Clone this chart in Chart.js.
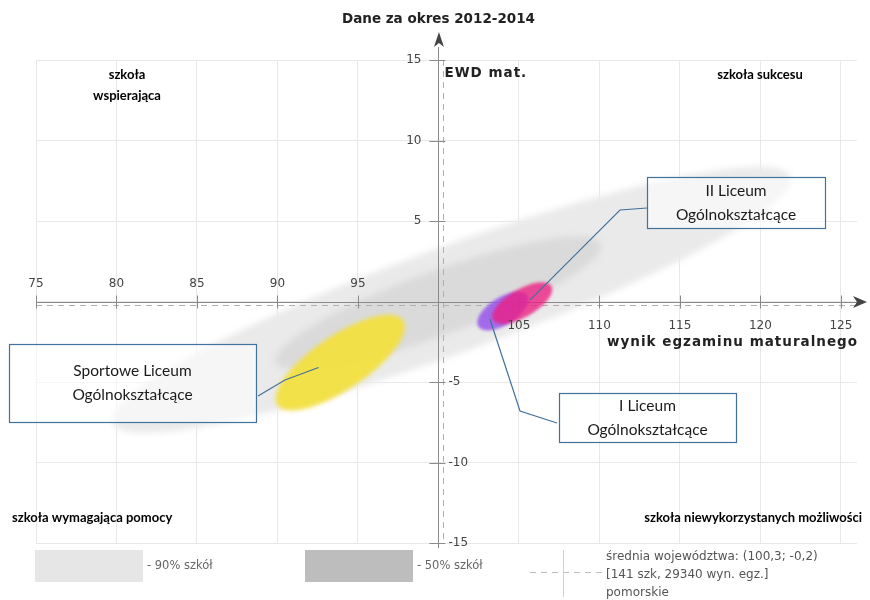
<!DOCTYPE html>
<html>
<head>
<meta charset="utf-8">
<script src="https://cdn.jsdelivr.net/npm/chart.js@4/dist/chart.umd.min.js"></script>
<style>
  body { margin: 0; background: #fff; }
  #wrap { width: 870px; height: 600px; }
</style>
</head>
<body>
<div id="wrap"><canvas id="ewdChart" width="870" height="600"></canvas></div>
<script>
// axis ticks
const xTicks = [75, 80, 85, 90, 95, 100, 105, 110, 115, 120, 125];
const yTicks = [-15, -10, -5, 0, 5, 10, 15];

// ellipses: 90% / 50% of schools, then the three schools
const ellipseNames = ['90% szkół', '50% szkół', 'Sportowe Liceum Ogólnokształcące', 'I Liceum Ogólnokształcące', 'II Liceum Ogólnokształcące'];
const centerX = [100.8, 100.0, 93.9, 104.0, 105.2];
const centerY = [0.1, -0.1, -3.8, -0.6, -0.1];
const semiMajor = [22.4, 10.75, 4.7, 1.8, 2.1];
const semiMinor = [3.3, 2.0, 1.68, 0.85, 0.87];
const tiltDeg = [20, 20, 34, 32, 30];

// voivodeship average
const avgX = 100.3;
const avgY = -0.2;
const schoolCount = 141;
const examCount = 29340;

const ellipseColors = ['#eaeaea', '#dadada', 'rgba(243,224,60,0.93)', 'rgba(150,85,235,0.85)', 'rgba(236,30,130,0.78)'];
const ellipseBlur = [3, 3, 2, 1.5, 1.5];

const tickFont = '12px "DejaVu Sans"';
const calloutFont = '15.5px Lato, "Open Sans", sans-serif';
const quadFont = 'bold 13px Lato, "Open Sans", sans-serif';

function fmt(v) { return String(v).replace('.', ','); }

function drawAxes(chart) {
  const c = chart.ctx, xs = chart.scales.x, ys = chart.scales.y;
  const x0 = xs.getPixelForValue(100), y0 = ys.getPixelForValue(0);
  const ax = xs.getPixelForValue(avgX), ay = ys.getPixelForValue(avgY);
  const a = chart.chartArea;
  c.save();
  // average lines
  c.strokeStyle = '#b0b0b0';
  c.lineWidth = 1;
  c.setLineDash([6, 5]);
  c.beginPath();
  c.moveTo(a.left, Math.round(ay) + 0.5); c.lineTo(a.right, Math.round(ay) + 0.5);
  c.moveTo(Math.round(ax) + 0.5, a.top); c.lineTo(Math.round(ax) + 0.5, a.bottom);
  c.stroke();
  c.setLineDash([]);
  // axis lines
  c.strokeStyle = '#8a8a8a';
  c.beginPath();
  c.moveTo(a.left, Math.round(y0) + 0.5); c.lineTo(a.right + 1, Math.round(y0) + 0.5);
  c.moveTo(Math.round(x0) + 0.5, a.top - 13); c.lineTo(Math.round(x0) + 0.5, a.bottom + 5);
  c.stroke();
  // tick marks
  c.beginPath();
  xTicks.forEach(v => {
    const px = Math.round(xs.getPixelForValue(v)) + 0.5;
    c.moveTo(px, y0 - 6); c.lineTo(px, y0 + 7);
  });
  yTicks.forEach(v => {
    const py = Math.round(ys.getPixelForValue(v)) + 0.5;
    c.moveTo(x0 - 9, py); c.lineTo(x0 + 7, py);
  });
  c.stroke();
  // arrows
  c.fillStyle = '#444';
  c.beginPath();
  c.moveTo(x0 + 0.5, a.top - 28); c.lineTo(x0 + 5.5, a.top - 13); c.lineTo(x0 + 0.5, a.top - 17); c.lineTo(x0 - 4.5, a.top - 13);
  c.closePath(); c.fill();
  c.beginPath();
  c.moveTo(a.right + 10, y0 + 0.5); c.lineTo(a.right - 4, y0 - 5.5); c.lineTo(a.right, y0 + 0.5); c.lineTo(a.right - 4, y0 + 6.5);
  c.closePath(); c.fill();
  c.restore();
}

const ellipsePlugin = {
  id: 'ellipses',
  beforeDatasetsDraw(chart) {
    const c = chart.ctx, xs = chart.scales.x, ys = chart.scales.y;
    chart.data.datasets.forEach((ds, i) => {
      const pt = chart.getDatasetMeta(i).data[0];
      const t = tiltDeg[i] * Math.PI / 180;
      const mx = xs.getPixelForValue(centerX[i] + semiMajor[i] * Math.cos(t));
      const my = ys.getPixelForValue(centerY[i] + semiMajor[i] * Math.sin(t));
      const nx = xs.getPixelForValue(centerX[i] - semiMinor[i] * Math.sin(t));
      const ny = ys.getPixelForValue(centerY[i] + semiMinor[i] * Math.cos(t));
      const rx = Math.hypot(mx - pt.x, my - pt.y);
      const ry = Math.hypot(nx - pt.x, ny - pt.y);
      const rot = Math.atan2(my - pt.y, mx - pt.x);
      c.save();
      c.filter = 'blur(' + ellipseBlur[i] + 'px)';
      c.fillStyle = ellipseColors[i];
      c.beginPath();
      c.ellipse(pt.x, pt.y, rx, ry, rot, 0, Math.PI * 2);
      c.fill();
      c.restore();
      if (i === 1) drawAxes(chart);
    });
  }
};

// callout boxes: box in pixels, arrow ends at a point of the data
const callouts = [
  { lines: ['Sportowe Liceum', 'Ogólnokształcące'], box: [9, 344, 247, 78], path: [[258, 396], [285, 380]], target: [92.55, -4.1] },
  { lines: ['II Liceum', 'Ogólnokształcące'], box: [647, 177, 178, 51], path: [[647, 208], [620, 210]], target: [105.7, 0.1] },
  { lines: ['I Liceum', 'Ogólnokształcące'], box: [559, 393, 177, 49], path: [[557, 423], [520, 411]], target: [103.2, -1.1] }
];

const overlayPlugin = {
  id: 'overlay',
  afterDraw(chart) {
    const c = chart.ctx, xs = chart.scales.x, ys = chart.scales.y;
    const x0 = xs.getPixelForValue(100), y0 = ys.getPixelForValue(0);
    c.save();
    c.textBaseline = 'middle';
    // title
    c.fillStyle = '#222';
    c.font = 'bold 13.5px "DejaVu Sans"';
    c.textAlign = 'center';
    c.fillText('Dane za okres 2012-2014', x0, 19);
    // axis titles
    c.font = 'bold 13.5px "DejaVu Sans"';
    c.letterSpacing = '1px';
    c.textAlign = 'left';
    c.fillText('EWD mat.', x0 + 6, 73);
    c.textAlign = 'right';
    c.fillText('wynik egzaminu maturalnego', chart.chartArea.right + 1, y0 + 41);
    c.letterSpacing = '0px';
    // tick labels
    c.font = tickFont;
    c.fillStyle = '#444';
    c.textAlign = 'center';
    xTicks.forEach(v => {
      if (v === 100) return;
      c.fillText(String(v), xs.getPixelForValue(v), v < 100 ? y0 - 18 : y0 + 24);
    });
    yTicks.forEach(v => {
      if (v === 0) return;
      c.textAlign = v > 0 ? 'right' : 'left';
      c.fillText(String(v), v > 0 ? x0 - 17 : x0 + 10, ys.getPixelForValue(v));
    });
    // quadrant names
    c.fillStyle = '#000';
    c.font = quadFont;
    c.textAlign = 'center';
    c.fillText('szkoła', 127, 75);
    c.fillText('wspierająca', 127, 96);
    c.fillText('szkoła sukcesu', 760, 75);
    c.textAlign = 'left';
    c.fillText('szkoła wymagająca pomocy', 12, 518);
    c.textAlign = 'right';
    c.fillText('szkoła niewykorzystanych możliwości', 862, 518);
    // legend
    c.fillStyle = '#e6e6e6';
    c.fillRect(35, 550, 108, 32);
    c.fillStyle = '#bdbdbd';
    c.fillRect(305, 550, 108, 32);
    c.font = '11.5px "DejaVu Sans"';
    c.fillStyle = '#666';
    c.textAlign = 'left';
    c.fillText('- ' + ellipseNames[0], 147, 566);
    c.fillText('- ' + ellipseNames[1], 417, 566);
    c.strokeStyle = '#bbb';
    c.lineWidth = 1;
    c.setLineDash([6, 5]);
    c.beginPath(); c.moveTo(530, 572.5); c.lineTo(603, 572.5); c.stroke();
    c.setLineDash([]);
    c.strokeStyle = '#d0d0d0';
    c.beginPath(); c.moveTo(563.5, 550); c.lineTo(563.5, 597); c.stroke();
    c.font = '12px "DejaVu Sans"';
    c.fillStyle = '#555';
    c.fillText('średnia województwa: (' + fmt(avgX) + '; ' + fmt(avgY) + ')', 606, 557);
    c.fillText('[' + schoolCount + ' szk, ' + examCount + ' wyn. egz.]', 606, 575);
    c.fillText('pomorskie', 606, 593);
    // callouts
    callouts.forEach(co => {
      const [bx, by, bw, bh] = co.box;
      c.fillStyle = 'rgba(255,255,255,0.55)';
      c.fillRect(bx, by, bw, bh);
      c.strokeStyle = '#41719c';
      c.lineWidth = 1.2;
      c.strokeRect(bx + 0.5, by + 0.5, bw, bh);
      c.beginPath();
      c.moveTo(co.path[0][0], co.path[0][1]);
      co.path.slice(1).forEach(p => c.lineTo(p[0], p[1]));
      c.lineTo(xs.getPixelForValue(co.target[0]), ys.getPixelForValue(co.target[1]));
      c.stroke();
      c.fillStyle = '#1a1a1a';
      c.font = calloutFont;
      c.textAlign = 'center';
      const mid = by + bh / 2;
      c.fillText(co.lines[0], bx + bw / 2, mid - 12);
      c.fillText(co.lines[1], bx + bw / 2, mid + 12);
    });
    c.restore();
  }
};

new Chart(document.getElementById('ewdChart'), {
  type: 'scatter',
  data: {
    datasets: ellipseNames.map((name, i) => ({
      label: name,
      data: [{ x: centerX[i], y: centerY[i] }],
      pointRadius: 0,
      pointHoverRadius: 0
    }))
  },
  options: {
    responsive: false,
    animation: false,
    events: [],
    layout: { padding: { left: 36, right: 13, top: 60, bottom: 57 } },
    scales: {
      x: {
        type: 'linear', min: 75, max: 126,
        afterBuildTicks: s => { s.ticks = xTicks.map(v => ({ value: v })); },
        ticks: { display: false },
        grid: { color: '#e8e8e8', drawTicks: false },
        border: { display: false }
      },
      y: {
        type: 'linear', min: -15, max: 15,
        afterBuildTicks: s => { s.ticks = yTicks.map(v => ({ value: v })); },
        ticks: { display: false },
        grid: { color: '#e8e8e8', drawTicks: false },
        border: { display: false }
      }
    },
    plugins: { legend: { display: false }, tooltip: { enabled: false } }
  },
  plugins: [ellipsePlugin, overlayPlugin]
});
</script>
</body>
</html>
